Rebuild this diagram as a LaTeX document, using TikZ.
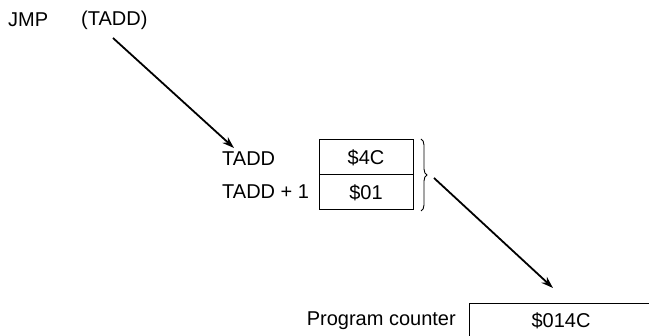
\documentclass[tikz,border=0pt]{standalone}
\usepackage{fontspec}
\setmainfont{Liberation Sans}
\usetikzlibrary{decorations.pathreplacing,arrows.meta}
\begin{document}
\begin{tikzpicture}[x=1pt,y=-1pt,
  lbl/.style={inner sep=0pt,font=\fontsize{20}{23}\selectfont},
  cell/.style={draw,line width=1pt,minimum width=94pt,minimum height=35pt,inner sep=0pt,font=\fontsize{20}{23}\selectfont},
  arr/.style={line width=1.8pt,-{Stealth[length=12pt,width=8pt]}}]
\useasboundingbox (0,0) rectangle (649,336);
\node[lbl,anchor=west] (jmp) at (8,20) {JMP};
\node[lbl,anchor=west] (tadd) at (81,20) {(TADD)};
\node[lbl,anchor=west] (t0) at (222,159) {TADD};
\node[lbl,anchor=west] (t1) at (222,192) {TADD + 1};
\node[cell] (c0) at (366,157.5) {\$4C};
\node[cell] (c1) at (366,192.5) {\$01};
\coordinate (a1s) at (113,38);
\coordinate (a1e) at (234,148);
\draw[arr] (a1s) -- (a1e);
\draw[line width=0.9pt,decorate,decoration={brace,amplitude=6pt}] (421,139) -- (421,211);
\coordinate (a2s) at (434,178);
\coordinate (a2e) at (553,288);
\draw[arr] (a2s) -- (a2e);
\node[lbl,anchor=east] (pc) at (456,321) {Program counter};
\node[lbl] (pcv) at (561,321) {\$014C};
\coordinate (pbl) at (469,340);
\coordinate (ptl) at (469,304);
\coordinate (ptr) at (649,304);
\draw[line width=1pt] (pbl) -- (ptl) -- (ptr);
\end{tikzpicture}
\end{document}
